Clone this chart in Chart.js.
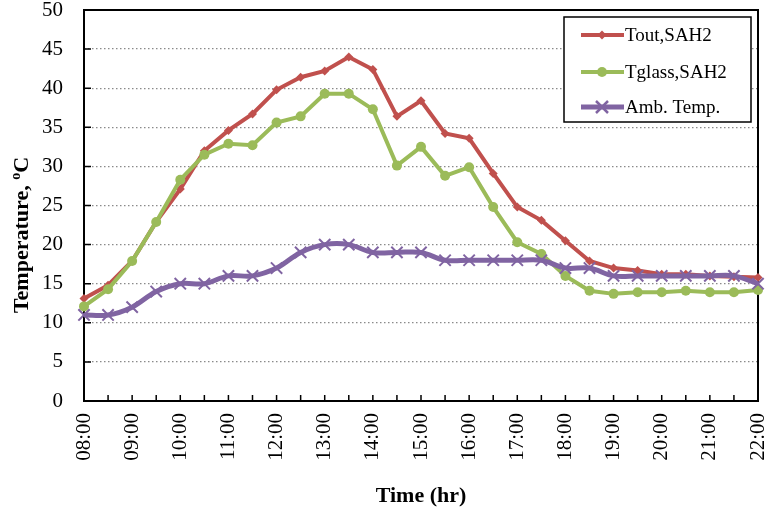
<!DOCTYPE html>
<html>
<head>
<meta charset="utf-8">
<script src="https://cdn.jsdelivr.net/npm/chart.js@4/dist/chart.umd.min.js"></script>
<style>
html,body{margin:0;padding:0;background:#fff;}
#wrap{width:768px;height:515px;}
</style>
</head>
<body>
<div id="wrap"><canvas id="c" width="768" height="515"></canvas></div>
<script>
const categories = ["08:00","08:30","09:00","09:30","10:00","10:30","11:00","11:30","12:00","12:30","13:00","13:30","14:00","14:30","15:00","15:30","16:00","16:30","17:00","17:30","18:00","18:30","19:00","19:30","20:00","20:30","21:00","21:30","22:00"];
const toutValues   = [13.1,14.8,17.9,22.9,27.1,32.0,34.6,36.7,39.8,41.4,42.2,44.0,42.4,36.4,38.4,34.2,33.6,29.1,24.8,23.1,20.5,17.9,17.0,16.7,16.2,16.2,16.0,15.9,15.8];
const tglassValues = [12.1,14.3,17.9,22.9,28.3,31.5,32.9,32.7,35.6,36.4,39.3,39.3,37.3,30.1,32.5,28.8,29.9,24.8,20.3,18.8,16.0,14.1,13.7,13.9,13.9,14.1,13.9,13.9,14.2];
const ambValues    = [11,11,12,14,15,15,16,16,17,19,20,20,19,19,19,18,18,18,18,18,17,17,16,16,16,16,16,16,15];
const seriesNames = ["Tout,SAH2","Tglass,SAH2","Amb. Temp."];
const yMin = 0, yMax = 50, yStep = 5;
const xTitle = "Time (hr)";
const yTitleMain = "Temperature, ";
const yTitleSup = "o";
const yTitleUnit = "C";

const SERIF = '"Liberation Serif","Times New Roman",serif';
const RED = '#C0504D', GREEN = '#9BBB59', PURPLE = '#8064A2';

function drawMarker(ctx, style, x, y, r, color){
  ctx.save();
  ctx.fillStyle = color; ctx.strokeStyle = color;
  ctx.beginPath();
  if (style === 'rectRot'){
    ctx.moveTo(x, y - r); ctx.lineTo(x + r, y); ctx.lineTo(x, y + r); ctx.lineTo(x - r, y); ctx.closePath(); ctx.fill();
  } else if (style === 'circle'){
    ctx.arc(x, y, r, 0, Math.PI*2); ctx.fill();
  } else {
    ctx.lineWidth = 2.5;
    const d = r*0.75;
    ctx.moveTo(x-d,y-d); ctx.lineTo(x+d,y+d); ctx.moveTo(x+d,y-d); ctx.lineTo(x-d,y+d); ctx.stroke();
  }
  ctx.restore();
}

function zeroPad(s){ s.paddingTop = 0; s.paddingBottom = 0; s.paddingLeft = 0; s.paddingRight = 0; }

const framePlugin = {
  id: 'frame',
  beforeDatasetsDraw(chart){
    const {ctx, chartArea:a, scales} = chart;
    ctx.save();
    ctx.strokeStyle = '#000';
    ctx.lineWidth = 2;
    ctx.strokeRect(a.left, a.top, a.right - a.left, a.bottom - a.top);
    ctx.lineWidth = 1.5;
    ctx.beginPath();
    const xs = scales.x;
    for (let i = 0; i < xs.ticks.length; i++){
      const px = xs.getPixelForTick(i);
      ctx.moveTo(px, a.bottom); ctx.lineTo(px, a.bottom - 6);
    }
    const ys = scales.y;
    for (let i = 0; i < ys.ticks.length; i++){
      const py = ys.getPixelForTick(i);
      ctx.moveTo(a.left, py); ctx.lineTo(a.left + 7, py);
    }
    ctx.stroke();
    ctx.restore();
  },
  afterDraw(chart){
    const {ctx, chartArea:a} = chart;
    // y title
    ctx.save();
    ctx.fillStyle = '#000';
    ctx.translate(22, 235);
    ctx.rotate(-Math.PI/2);
    const bold = 'bold 22px ' + SERIF;
    const small = 'bold 14px ' + SERIF;
    ctx.font = bold;
    const w1 = ctx.measureText(yTitleMain).width;
    const w3 = ctx.measureText(yTitleUnit).width;
    ctx.font = small;
    const w2 = ctx.measureText(yTitleSup).width;
    const total = w1 + w2 + w3;
    let x0 = -total/2;
    ctx.textBaseline = 'middle';
    ctx.textAlign = 'left';
    ctx.font = bold;
    ctx.fillText(yTitleMain, x0, 0);
    ctx.font = small;
    ctx.fillText(yTitleSup, x0 + w1, -6);
    ctx.font = bold;
    ctx.fillText(yTitleUnit, x0 + w1 + w2, 0);
    ctx.restore();

    // legend
    ctx.save();
    const bx = a.right - 194, by = a.top + 7, bw = 187, bh = 105;
    ctx.fillStyle = '#fff';
    ctx.fillRect(bx, by, bw, bh);
    ctx.strokeStyle = '#000';
    ctx.lineWidth = 1.5;
    ctx.strokeRect(bx, by, bw, bh);
    const rows = [18, 55, 90];
    ctx.font = '19px ' + SERIF;
    ctx.textBaseline = 'middle';
    ctx.textAlign = 'left';
    chart.data.datasets.forEach((ds, i) => {
      const yy = by + rows[i];
      ctx.strokeStyle = ds.borderColor;
      ctx.lineWidth = ds.borderWidth;
      ctx.beginPath();
      ctx.moveTo(bx + 17, yy); ctx.lineTo(bx + 60, yy); ctx.stroke();
      drawMarker(ctx, ds.pointStyle, bx + 38, yy, ds.pointRadius, ds.pointBackgroundColor);
      ctx.fillStyle = '#000';
      ctx.fillText(ds.label, bx + 61, yy + 1);
    });
    ctx.restore();
  }
};

new Chart(document.getElementById('c'), {
  type: 'line',
  data: {
    labels: categories,
    datasets: [
      {label: seriesNames[0], data: toutValues, borderColor: RED, backgroundColor: RED, pointBackgroundColor: RED, pointBorderColor: RED,
       borderWidth: 4, pointStyle: 'rectRot', pointRadius: 4.5, pointBorderWidth: 0, tension: 0, clip: false, order: 3},
      {label: seriesNames[1], data: tglassValues, borderColor: GREEN, backgroundColor: GREEN, pointBackgroundColor: GREEN, pointBorderColor: GREEN,
       borderWidth: 4, pointStyle: 'circle', pointRadius: 5, pointBorderWidth: 0, tension: 0, clip: false, order: 2},
      {label: seriesNames[2], data: ambValues, borderColor: PURPLE, backgroundColor: PURPLE, pointBackgroundColor: PURPLE, pointBorderColor: PURPLE,
       borderWidth: 5, pointStyle: 'crossRot', pointRadius: 8, pointBorderWidth: 2, tension: 0.35, clip: false, order: 1}
    ]
  },
  options: {
    responsive: false,
    animation: false,
    events: [],
    layout: {padding: {top: 10, right: 7, left: 0, bottom: 0}},
    plugins: {legend: {display: false}, tooltip: {enabled: false}},
    scales: {
      x: {
        type: 'category',
        offset: false,
        grid: {display: false, drawTicks: false},
        border: {display: false},
        ticks: {
          autoSkip: false, maxRotation: 90, minRotation: 90, padding: 12,
          color: '#000', font: {family: SERIF, size: 21},
          callback: function(v, i){ return i % 2 === 0 ? this.getLabelForValue(v) : ''; }
        },
        title: {display: true, text: xTitle, color: '#000', font: {family: SERIF, size: 22, weight: 'bold'}, padding: {top: 0, bottom: 5}},
        afterFit(s){ s.height = 114; zeroPad(s); }
      },
      y: {
        min: yMin, max: yMax,
        grid: {color: '#8a8a8a', lineWidth: 1.2, drawTicks: false},
        border: {display: false, dash: [1.5, 2.5]},
        ticks: {stepSize: yStep, padding: 21, color: '#000', font: {family: SERIF, size: 21}},
        afterFit(s){ s.width = 84; zeroPad(s); }
      }
    }
  },
  plugins: [framePlugin]
});
</script>
</body>
</html>
